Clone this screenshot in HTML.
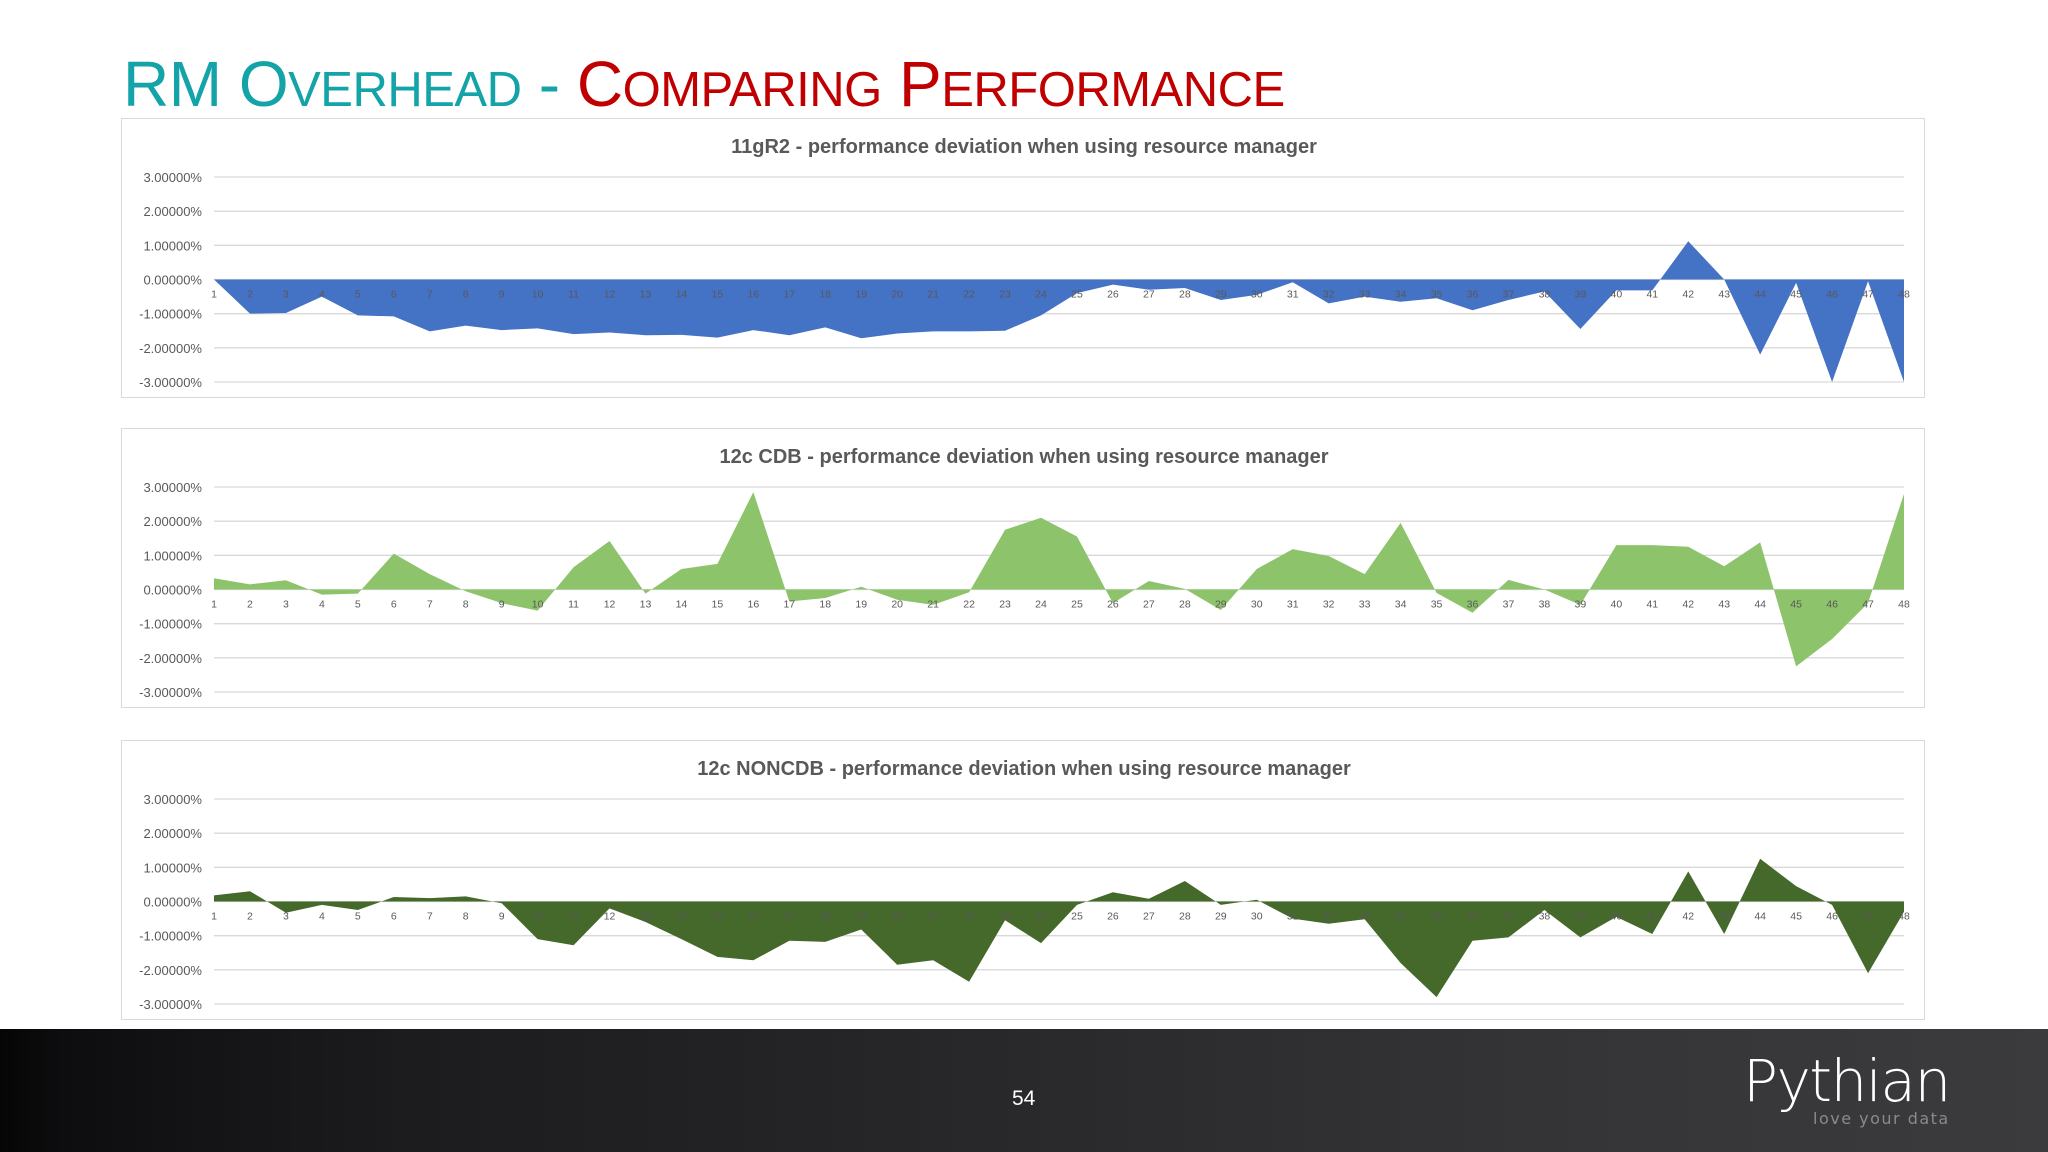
<!DOCTYPE html>
<html><head><meta charset="utf-8"><style>
html,body{margin:0;padding:0;width:2048px;height:1152px;overflow:hidden;background:#fff;font-family:"Liberation Sans",sans-serif}
#title{position:absolute;left:123px;top:47px;font-size:64px;white-space:nowrap;letter-spacing:-0.5px}
.sc{font-size:49px}
.chartbox{position:absolute;left:121px;width:1804px;height:280px;border:1px solid #d9d9d9;box-sizing:border-box;background:#fff}
#footer{position:absolute;left:0;top:1029px;width:2048px;height:123px;background:linear-gradient(90deg,#050505 0%,#0d0d0f 3%,#141416 10%,#1c1c1e 20%,#222224 35%,#29292b 50%,#303032 65%,#363638 80%,#3b3a3c 100%)}
</style></head><body>
<div id="title"><span style="color:#13a3a8">RM O<span class="sc">VERHEAD</span> - </span><span style="color:#c00000">C<span class="sc">OMPARING</span> P<span class="sc">ERFORMANCE</span></span></div>
<div class="chartbox" style="top:118px"><svg id="c1" width="1804" height="280"></svg></div>
<div class="chartbox" style="top:428px"><svg id="c2" width="1804" height="280"></svg></div>
<div class="chartbox" style="top:740px"><svg id="c3" width="1804" height="280"></svg></div>
<div id="footer">
<div style="position:absolute;left:1012px;top:58px;color:#fff;font-size:21px">54</div>
<div style="position:absolute;left:1743px;top:18px;color:#fff;font-size:58px;font-family:'DejaVu Sans',sans-serif;font-weight:200;letter-spacing:-1.5px">Pythian</div>
<div style="position:absolute;left:1813px;top:80px;color:#8a8a8a;font-size:16px;letter-spacing:1.5px;font-family:'DejaVu Sans',sans-serif">love your data</div>
</div>
<script>
const categories=[];for(let i=1;i<=48;i++)categories.push(i);
const tickValues=[3,2,1,0,-1,-2,-3];
const tickLabels=["3.00000%","2.00000%","1.00000%","0.00000%","-1.00000%","-2.00000%","-3.00000%"];
const series11g=[0,-1.0,-0.98,-0.5,-1.05,-1.08,-1.52,-1.35,-1.48,-1.43,-1.6,-1.55,-1.63,-1.62,-1.7,-1.48,-1.63,-1.4,-1.72,-1.58,-1.52,-1.52,-1.5,-1.05,-0.4,-0.15,-0.3,-0.25,-0.6,-0.45,-0.08,-0.7,-0.5,-0.65,-0.55,-0.9,-0.6,-0.35,-1.45,-0.32,-0.32,1.12,0,-2.2,-0.1,-3.0,-0.05,-3.0];
const seriesCdb=[0.33,0.15,0.27,-0.15,-0.12,1.05,0.45,-0.05,-0.4,-0.62,0.65,1.42,-0.12,0.6,0.75,2.85,-0.35,-0.25,0.08,-0.3,-0.45,-0.08,1.75,2.1,1.55,-0.4,0.25,0.02,-0.6,0.6,1.18,0.98,0.45,1.95,-0.1,-0.68,0.28,0,-0.45,1.3,1.3,1.25,0.68,1.38,-2.25,-1.45,-0.4,2.8];
const seriesNon=[0.18,0.3,-0.33,-0.1,-0.25,0.13,0.1,0.15,-0.05,-1.1,-1.28,-0.2,-0.6,-1.1,-1.62,-1.72,-1.15,-1.18,-0.82,-1.85,-1.72,-2.35,-0.55,-1.22,-0.1,0.27,0.08,0.6,-0.1,0.05,-0.5,-0.65,-0.52,-1.8,-2.8,-1.15,-1.05,-0.25,-1.05,-0.45,-0.95,0.88,-0.95,1.25,0.45,-0.1,-2.1,-0.3];
const NS="http://www.w3.org/2000/svg";
function mk(svg,tag,attrs){const e=document.createElementNS(NS,tag);for(const k in attrs)e.setAttribute(k,attrs[k]);svg.appendChild(e);return e;}
function draw(id,title,vals,color,key){
 const svg=document.getElementById(id);
 const L=92,R=1782,T=58,B=263;
 const x=i=>L+(R-L)*i/(categories.length-1);
 const y=v=>T+(3-v)/6*(B-T);
 const t=mk(svg,'text',{x:902,y:34,'text-anchor':'middle','font-size':20,'font-weight':'bold',fill:'#595959','font-family':'Liberation Sans, sans-serif'});
 t.textContent=title;
 
 
 tickValues.forEach((v,k)=>{
  const g=mk(svg,'line',{x1:L,x2:R,y1:y(v),y2:y(v),stroke:'#d9d9d9','stroke-width':1.3});
  
  
  const l=mk(svg,'text',{x:L-12,y:y(v)+5,'text-anchor':'end','font-size':13,fill:'#595959'});
  l.textContent=tickLabels[k];
  
  
 });
 let d='M'+x(0)+','+y(0);
 vals.forEach((v,i)=>{d+=' L'+x(i)+','+y(v);});
 d+=' L'+x(vals.length-1)+','+y(0)+' Z';
 const a=mk(svg,'path',{d:d,fill:color});
 
 
 categories.forEach((c,i)=>{
  const l=mk(svg,'text',{x:x(i),y:y(0)+18,'text-anchor':'middle','font-size':10.5,fill:'#595959'});
  l.textContent=c;
  
  
 });
}
draw('c1','11gR2 - performance deviation  when using resource manager',series11g,'#4472c4','series-11gr2');
draw('c2','12c CDB - performance deviation  when using resource manager',seriesCdb,'#8dc36a','series-cdb');
draw('c3','12c NONCDB - performance deviation  when using resource manager',seriesNon,'#44692a','series-noncdb');
</script>
</body></html>
